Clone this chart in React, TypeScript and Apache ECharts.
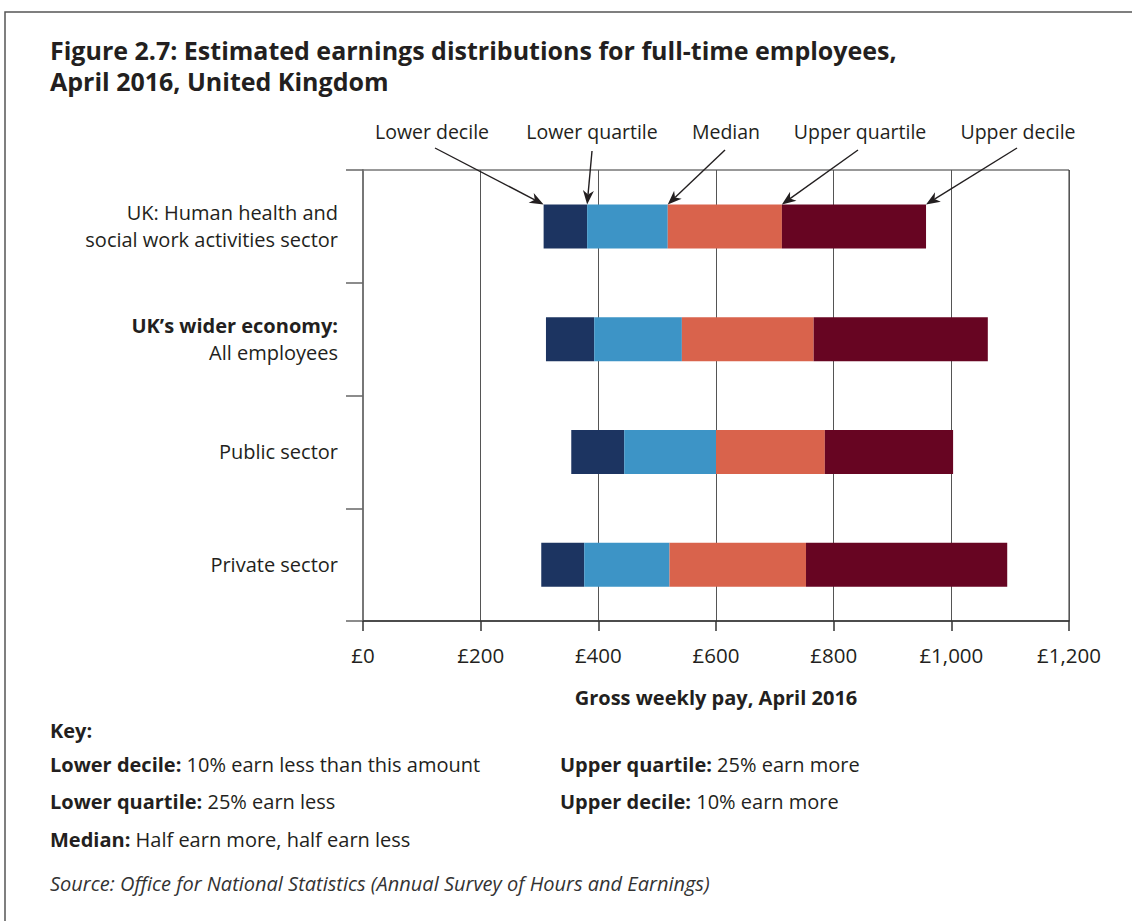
import React, { useEffect, useRef } from "react";
import * as echarts from "echarts";

const categories = [
  "UK: Human health and\nsocial work activities sector",
  "UK’s wider economy:\nAll employees",
  "Public sector",
  "Private sector",
];
const boldFirstLine = [false, true, false, false];

const lowerDecile = [307, 311, 354, 303];
const lowerQuartile = [381, 393, 444, 376];
const median = [518, 542, 600, 521];
const upperQuartile = [712, 766, 785, 753];
const upperDecile = [957, 1062, 1003, 1095];

const segmentNames = ["Lower decile", "Lower quartile", "Median", "Upper quartile", "Upper decile"];
const segmentColors = ["#1c3461", "#3d94c6", "#d9634c", "#670522"];

const keyLeft = [
  ["Lower decile:", " 10% earn less than this amount"],
  ["Lower quartile:", " 25% earn less"],
  ["Median:", " Half earn more, half earn less"],
];
const keyRight = [
  ["Upper quartile:", " 25% earn more"],
  ["Upper decile:", " 10% earn more"],
];

const FONT = "'Open Sans', 'Noto Sans', sans-serif";
const TXT = "#231f20";
const FS = 20;

export default function App() {
  const ref = useRef<HTMLDivElement>(null);
  useEffect(() => {
    if (!ref.current) return;
    const chart = echarts.init(ref.current, undefined, { renderer: "svg" });

    const quantiles = [lowerDecile, lowerQuartile, median, upperQuartile, upperDecile];
    const series: any[] = [
      {
        type: "bar",
        stack: "d",
        data: lowerDecile,
        itemStyle: { color: "transparent" },
        barWidth: 44,
        silent: true,
      },
    ];
    for (let s = 0; s < 4; s++) {
      series.push({
        type: "bar",
        stack: "d",
        name: segmentNames[s] + "–" + segmentNames[s + 1],
        data: quantiles[s + 1].map((v, i) => v - quantiles[s][i]),
        itemStyle: { color: segmentColors[s] },
        barWidth: 44,
      });
    }

    const option: any = {
      animation: false,
      backgroundColor: "#fff",
      textStyle: { fontFamily: FONT, color: TXT },
      title: {
        text: "Figure 2.7: Estimated earnings distributions for full-time employees,\nApril 2016, United Kingdom",
        left: 45,
        top: 29,
        textStyle: { fontFamily: FONT, fontWeight: "bold", fontSize: 25, lineHeight: 31, color: TXT },
      },
      grid: {
        left: 363,
        right: 63,
        top: 170,
        bottom: 300,
        show: true,
        borderColor: "#333",
        borderWidth: 1,
        backgroundColor: "transparent",
      },
      xAxis: {
        type: "value",
        min: 0,
        max: 1200,
        interval: 200,
        name: "Gross weekly pay, April 2016",
        nameLocation: "middle",
        nameGap: 66,
        nameTextStyle: { fontFamily: FONT, fontWeight: "bold", fontSize: FS, color: TXT },
        axisLine: { show: true, lineStyle: { color: "#333", width: 1.5 } },
        axisTick: { show: true, length: 10, lineStyle: { color: "#333", width: 1.5 } },
        axisLabel: {
          margin: 23,
          fontFamily: FONT,
          fontSize: 20.5,
          color: TXT,
          formatter: (v: number) => "£" + v.toLocaleString("en-GB"),
        },
        splitLine: { show: true, lineStyle: { color: "#555", width: 1 } },
      },
      yAxis: {
        type: "category",
        data: categories,
        inverse: true,
        axisLine: { show: true, lineStyle: { color: "#777", width: 2 } },
        axisTick: { show: true, length: 17, lineStyle: { color: "#666", width: 1.5 } },
        axisLabel: {
          margin: 25,
          formatter: (v: string) => {
            const idx = categories.indexOf(v);
            return v
              .split("\n")
              .map((l, i) => (i === 0 && boldFirstLine[idx] ? `{b|${l}}` : `{n|${l}}`))
              .join("\n");
          },
          rich: {
            n: { fontFamily: FONT, fontSize: FS, lineHeight: 27, color: TXT, align: "right" },
            b: { fontFamily: FONT, fontSize: FS, lineHeight: 27, color: TXT, fontWeight: "bold", align: "right" },
          },
        },
      },
      series,
    };
    chart.setOption(option);

    const labelX = [432, 592, 726, 860, 1018];
    const startPts = [
      [435, 148],
      [592, 151],
      [725, 150],
      [858, 150],
      [1017, 148],
    ];
    const graphics: any[] = [
      {
        type: "rect",
        shape: { x: 5, y: 12, width: 1200, height: 1000 },
        style: { fill: "none", stroke: "#555", lineWidth: 1.5 },
        z: 100,
      },
    ];
    const centerY = chart.convertToPixel({ yAxisIndex: 0 }, categories[0]) as number;
    const tipY = centerY - 22;
    quantiles.forEach((arr, k) => {
      const tipX = chart.convertToPixel({ xAxisIndex: 0 }, arr[0]) as number;
      const [sx, sy] = startPts[k];
      const ang = Math.atan2(tipY - sy, tipX - sx);
      const dx = Math.cos(ang), dy = Math.sin(ang);
      const px = -dy, py = dx;
      const L = 14, W = 5.5, N = 10;
      const nx = tipX - N * dx, ny = tipY - N * dy;
      graphics.push({
        type: "line",
        shape: { x1: sx, y1: sy, x2: nx, y2: ny },
        style: { stroke: "#231f20", lineWidth: 1.4 },
        z: 100,
      });
      graphics.push({
        type: "polygon",
        shape: {
          points: [
            [tipX, tipY],
            [tipX - L * dx + W * px, tipY - L * dy + W * py],
            [nx, ny],
            [tipX - L * dx - W * px, tipY - L * dy - W * py],
          ],
        },
        style: { fill: "#231f20" },
        z: 100,
      });
      graphics.push({
        type: "text",
        x: labelX[k],
        y: 131,
        style: {
          text: segmentNames[k],
          fontFamily: FONT,
          fontSize: 19.5,
          fill: TXT,
          align: "center",
          verticalAlign: "middle",
        },
        z: 100,
      });
    });

    graphics.push({
      type: "text",
      x: 50,
      y: 730,
      style: { text: "Key:", fontFamily: FONT, fontSize: FS, fontWeight: "bold", fill: TXT, verticalAlign: "middle" },
    });
    const keyRow = (pair: string[], x: number, y: number) => ({
      type: "text",
      x,
      y,
      style: {
        text: `{b|${pair[0]}}{n|${pair[1]}}`,
        verticalAlign: "middle",
        rich: {
          b: { fontFamily: FONT, fontSize: FS, fontWeight: "bold", fill: TXT, color: TXT },
          n: { fontFamily: FONT, fontSize: FS, fill: TXT, color: TXT },
        },
      },
    });
    keyLeft.forEach((p, i) => graphics.push(keyRow(p, 50, 764 + i * 37.5)));
    keyRight.forEach((p, i) => graphics.push(keyRow(p, 560, 764 + i * 37.5)));
    graphics.push({
      type: "text",
      x: 50,
      y: 883,
      style: {
        text: "Source: Office for National Statistics (Annual Survey of Hours and Earnings)",
        fontFamily: FONT,
        fontSize: 20,
        fontStyle: "italic",
        fill: "#333",
        verticalAlign: "middle",
      },
    });

    chart.setOption({ graphic: graphics });

    return () => chart.dispose();
  }, []);
  return (
    <div
      ref={ref}
      style={{ position: "fixed", left: 0, top: 0, width: 1132, height: 921, background: "#fff" }}
    />
  );
}
